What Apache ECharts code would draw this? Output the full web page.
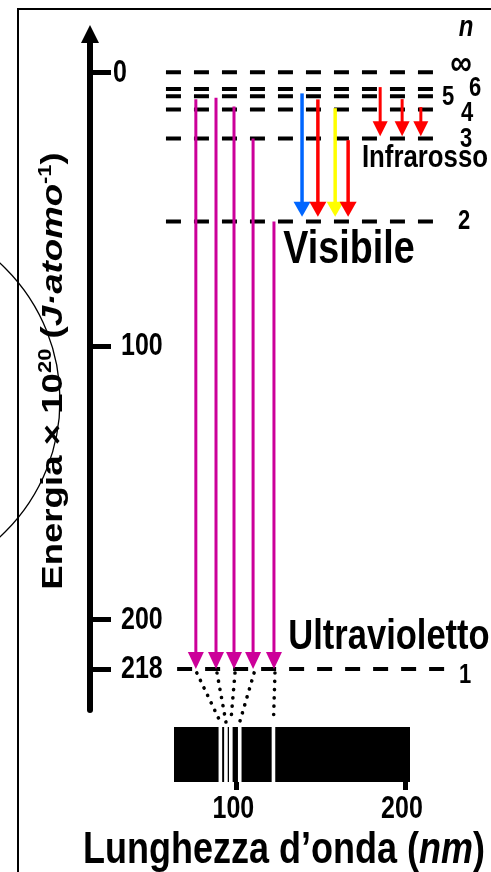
<!DOCTYPE html>
<html>
<head>
<meta charset="utf-8">
<script src="https://cdn.jsdelivr.net/npm/echarts@6/dist/echarts.min.js"></script>
<style>
  html, body { margin: 0; padding: 0; background: #fff; }
  #chart { width: 491px; height: 872px; }
</style>
</head>
<body>
<div id="chart"></div>
<script>
// livelli energetici dell'idrogeno (x 10^-20 J/atomo): n = inf, 6, 5, 4, 3, 2, 1
var levelN = ['∞', '6', '5', '4', '3', '2', '1']
var levelE = [0, -6.06, -8.72, -13.63, -24.22, -54.5, -218]
var energyTicks = [0, -100, -200, -218]

// serie di Lyman (ultravioletto): posizione, energia di partenza, di arrivo
var uvX = [29.4, 35, 40, 45.3, 51.1]
var uvFrom = [-9.8, -9.3, -12.5, -24.2, -54.5]
var uvTo = [-218, -218, -218, -218, -218]

// serie di Balmer (visibile)
var visX = [58.9, 63.3, 68.1, 71.7]
var visFrom = [-7.7, -9.9, -13.1, -24.8]
var visTo = [-52.8, -52.8, -52.8, -52.8]
var visColor = ['#0066ff', '#ff0000', '#ffff00', '#ff0000']

// serie di Paschen (infrarosso)
var irX = [80.6, 86.7, 91.9]
var irFrom = [-5.4, -9.8, -12.7]
var irTo = [-23.4, -23.4, -23.4]

// righe dello spettro (nm) e tacche dell'asse
var lineNm = [90.5, 93.8, 96.7, 102, 122]
var nmTicks = [100, 200]

var FONT = "'Liberation Sans', Arial, sans-serif"
var SY = 1.22 // il disegno originale e' un po' stirato in verticale

var chart = echarts.init(document.getElementById('chart'))

// freccia verticale: linea + punta triangolare
function arrowSeries (xs, from, to, colors, lw, hw, hl) {
  return {
    type: 'custom',
    xAxisIndex: 0,
    yAxisIndex: 0,
    silent: true,
    z: 5,
    data: xs.map(function (x, i) { return [x, from[i], to[i], i] }),
    renderItem: function (params, api) {
      var a = api.coord([api.value(0), api.value(1)])
      var b = api.coord([api.value(0), api.value(2)])
      var c = colors[api.value(3) % colors.length]
      return {
        type: 'group',
        children: [
          { type: 'line', shape: { x1: a[0], y1: a[1], x2: b[0], y2: b[1] - hl + 2 }, style: { stroke: c, lineWidth: lw } },
          { type: 'polygon', shape: { points: [[b[0] - hw / 2, b[1] - hl], [b[0] + hw / 2, b[1] - hl], [b[0], b[1]]] }, style: { fill: c } }
        ]
      }
    }
  }
}

var option = {
  animation: false,
  grid: [
    { left: 90, right: 41, top: 34, bottom: 162 },
    { left: 174, right: 81, top: 727, bottom: 90, show: true, backgroundColor: '#000', borderWidth: 0 }
  ],
  xAxis: [
    { gridIndex: 0, type: 'value', min: 0, max: 100, show: false },
    {
      gridIndex: 1,
      type: 'value',
      min: 63,
      max: 203,
      axisLine: { show: false },
      splitLine: { show: false },
      axisTick: { customValues: nmTicks, length: 8, lineStyle: { color: '#000', width: 5 } },
      axisLabel: { show: false }
    }
  ],
  yAxis: [
    {
      gridIndex: 0,
      type: 'value',
      min: -233,
      max: 14,
      splitLine: { show: false },
      axisLine: {
        show: true,
        symbol: ['none', 'triangle'],
        symbolSize: [18, 18],
        lineStyle: { color: '#000', width: 6 }
      },
      axisTick: { show: true, inside: true, customValues: energyTicks, length: 21, lineStyle: { color: '#000', width: 5 } },
      axisLabel: { show: false }
    },
    { gridIndex: 1, type: 'value', min: 0, max: 1, show: false }
  ],
  series: [
    {
      // livelli tratteggiati
      type: 'custom',
      xAxisIndex: 0,
      yAxisIndex: 0,
      silent: true,
      data: levelE.map(function (e, i) { return [0, e, i] }),
      renderItem: function (params, api) {
        var last = api.value(2) === levelE.length - 1
        var a = api.coord([last ? 24.2 : 21.1, api.value(1)])
        var b = api.coord([last ? 98.6 : 95.6, api.value(1)])
        return {
          type: 'line',
          shape: { x1: a[0], y1: a[1], x2: b[0], y2: b[1] },
          style: { stroke: '#000', lineWidth: 4, lineDash: [15, 13] }
        }
      }
    },
    arrowSeries(uvX, uvFrom, uvTo, ['#cc0099'], 3, 16, 17),
    arrowSeries(visX, visFrom, visTo, visColor, 3.5, 17, 15),
    arrowSeries(irX, irFrom, irTo, ['#ff0000'], 3, 15, 15),
    {
      // righe bianche dello spettro
      type: 'custom',
      xAxisIndex: 1,
      yAxisIndex: 1,
      silent: true,
      data: lineNm.map(function (v) { return [v, 1] }),
      renderItem: function (params, api) {
        var t = api.coord([api.value(0), 1])
        var b = api.coord([api.value(0), 0])
        return {
          type: 'rect',
          shape: { x: t[0] - 1.8, y: t[1], width: 3.6, height: b[1] - t[1] },
          style: { fill: '#fff' }
        }
      }
    }
  ]
}
chart.setOption(option)

// elementi grafici che dipendono dalle scale
function px (g, v) { return chart.convertToPixel({ gridIndex: g }, v) }

function label (text, x, y, size, extra) {
  var st = { text: text, font: 'bold ' + size + 'px ' + FONT, fill: '#000', align: 'center', verticalAlign: 'middle' }
  if (extra) for (var k in extra) st[k] = extra[k]
  return { type: 'text', x: x, y: y, scaleY: SY, style: st, z: 20 }
}

var graphics = []

// cornice
graphics.push({ type: 'line', shape: { x1: 17, y1: 9, x2: 491, y2: 9 }, style: { stroke: '#000', lineWidth: 2 }, z: 1 })
graphics.push({ type: 'line', shape: { x1: 18, y1: 8, x2: 18, y2: 872 }, style: { stroke: '#000', lineWidth: 2 }, z: 1 })

// etichette dell'asse delle energie
energyTicks.forEach(function (v) {
  var y = px(0, [0, v])[1]
  graphics.push(label(String(Math.abs(v)), v === 0 ? 113 : 121, y + 1, 25, { align: 'left' }))
})

// etichette dell'asse delle lunghezze d'onda
nmTicks.forEach(function (v) {
  var p = px(1, [v, 0])
  graphics.push(label(String(v), p[0] - 3, 810, 25))
})

// puntini tra frecce UV e righe dello spettro
uvX.forEach(function (x, i) {
  var a = px(0, [x, uvTo[i]])
  var b = px(1, [lineNm[i], 1])
  graphics.push({
    type: 'polyline',
    shape: { points: [[a[0] + 1, a[1] + 4], [b[0], b[1] - 5]] },
    style: { stroke: '#000', lineWidth: 3.6, lineDash: [0.1, 8.2], lineCap: 'round' },
    z: 10
  })
})

// numeri quantici a destra
var labX = [461, 475, 448, 467, 466, 464, 465]
var labDy = [-7, 0, 1, 4, 1, 0, 7]
levelN.forEach(function (t, i) {
  var y = px(0, [0, levelE[i]])[1] + labDy[i]
  if (i === 0) {
    graphics.push(label(t, labX[i], y, 30, { font: 'italic bold 30px ' + FONT }))
  } else {
    graphics.push(label(t, labX[i], y, 22))
  }
})
graphics.push(label('n', 466, 28, 24, { font: 'italic bold 24px ' + FONT }))

// nomi delle regioni
graphics.push(label('Infrarosso', 425, 158, 25.8))
graphics.push(label('Visibile', 349, 250, 37.7))
graphics.push(label('Ultravioletto', 389, 637, 34.5))

// titolo asse x
graphics.push(label('Lunghezza d\u2019onda ({i|nm})', 284, 851, 36, {
  rich: { i: { font: 'italic bold 36px ' + FONT, fill: '#000' } }
}))

// titolo asse y (ruotato)
graphics.push({
  type: 'text',
  x: 54,
  y: 371,
  rotation: Math.PI / 2,
  scaleX: SY,
  z: 20,
  style: {
    text: 'Energia × 10{s|20} ({i|J·atomo}{s|-1})',
    font: 'bold 30px ' + FONT,
    fill: '#000',
    align: 'center',
    verticalAlign: 'middle',
    rich: {
      s: { font: 'bold 18px ' + FONT, fill: '#000', verticalAlign: 'top', lineHeight: 34 },
      i: { font: 'italic bold 30px ' + FONT, fill: '#000' }
    }
  }
})

// cerchio a sinistra
graphics.push({
  type: 'circle',
  shape: { cx: -126, cy: 400, r: 186 },
  style: { fill: 'none', stroke: '#000', lineWidth: 1.3 },
  z: 30
})

chart.setOption({ graphic: graphics })
</script>
</body>
</html>
